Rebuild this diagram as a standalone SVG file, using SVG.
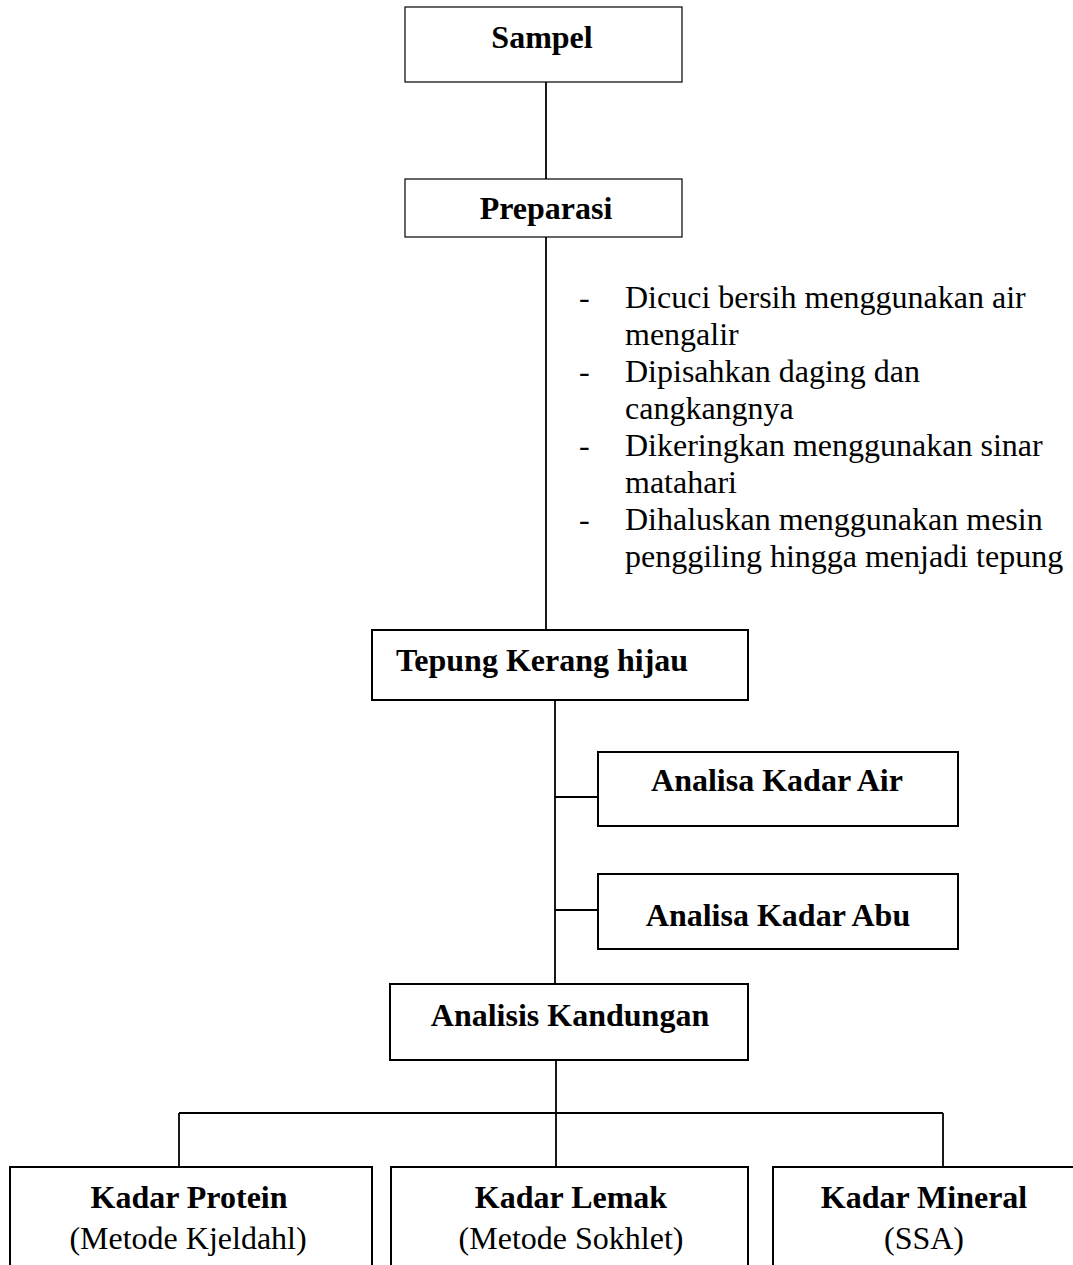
<svg xmlns="http://www.w3.org/2000/svg" width="1073" height="1265" viewBox="0 0 1073 1265">
<style>
.box{fill:#fff;stroke:#000;stroke-width:2}
.thin{stroke-width:1.2}
.b{font-family:"Liberation Serif",serif;font-weight:bold;font-size:32px;fill:#000;text-anchor:middle}
.r{font-family:"Liberation Serif",serif;font-size:32px;fill:#000}
.rc{text-anchor:middle}
#connectors line{stroke:#000;stroke-width:1.8}
</style>
<rect width="1073" height="1265" fill="#fff"/>
<g id="connectors">
<line x1="546" y1="82" x2="546" y2="179"/>
<line x1="546" y1="237" x2="546" y2="630"/>
<line x1="555" y1="700" x2="555" y2="984"/>
<line x1="555" y1="797" x2="598" y2="797"/>
<line x1="555" y1="910" x2="598" y2="910"/>
<line x1="556" y1="1060" x2="556" y2="1113"/>
<line x1="179" y1="1113" x2="943" y2="1113"/>
<line x1="179" y1="1113" x2="179" y2="1167"/>
<line x1="556" y1="1113" x2="556" y2="1167"/>
<line x1="943" y1="1113" x2="943" y2="1167"/>
</g>
<g id="sampel">
<rect class="box thin" x="405" y="7" width="277" height="75"/>
<text class="b" x="542" y="48">Sampel</text>
</g>
<g id="preparasi">
<rect class="box thin" x="405" y="179" width="277" height="58"/>
<text class="b" x="546" y="219">Preparasi</text>
</g>
<g id="steps">
<text class="r" x="579" y="308">-</text>
<text class="r" x="625" y="308">Dicuci bersih menggunakan air</text>
<text class="r" x="625" y="345">mengalir</text>
<text class="r" x="579" y="382">-</text>
<text class="r" x="625" y="382">Dipisahkan daging dan</text>
<text class="r" x="625" y="419">cangkangnya</text>
<text class="r" x="579" y="456">-</text>
<text class="r" x="625" y="456">Dikeringkan menggunakan sinar</text>
<text class="r" x="625" y="493">matahari</text>
<text class="r" x="579" y="530">-</text>
<text class="r" x="625" y="530">Dihaluskan menggunakan mesin</text>
<text class="r" x="625" y="567">penggiling hingga menjadi tepung</text>
</g>
<g id="tepung">
<rect class="box" x="372" y="630" width="376" height="70"/>
<text class="b" x="542" y="671">Tepung Kerang hijau</text>
</g>
<g id="air">
<rect class="box" x="598" y="752" width="360" height="74"/>
<text class="b" x="777" y="791">Analisa Kadar Air</text>
</g>
<g id="abu">
<rect class="box" x="598" y="874" width="360" height="75"/>
<text class="b" x="778" y="926">Analisa Kadar Abu</text>
</g>
<g id="kandungan">
<rect class="box" x="390" y="984" width="358" height="76"/>
<text class="b" x="570" y="1026">Analisis Kandungan</text>
</g>
<g id="protein">
<rect class="box" x="10" y="1167" width="362" height="120"/>
<text class="b" x="189" y="1208">Kadar Protein</text>
<text class="r rc" x="188" y="1249">(Metode Kjeldahl)</text>
</g>
<g id="lemak">
<rect class="box" x="391" y="1167" width="357" height="120"/>
<text class="b" x="571" y="1208">Kadar Lemak</text>
<text class="r rc" x="571" y="1249">(Metode Sokhlet)</text>
</g>
<g id="mineral">
<rect class="box" x="773" y="1167" width="320" height="120"/>
<text class="b" x="924" y="1208">Kadar Mineral</text>
<text class="r rc" x="924" y="1249">(SSA)</text>
</g>
</svg>
